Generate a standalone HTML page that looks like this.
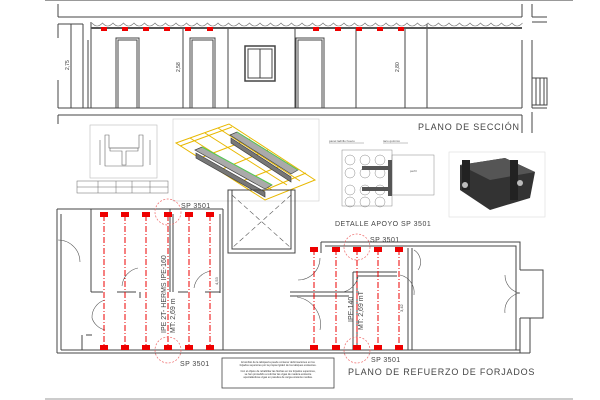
<!DOCTYPE html>
<html><head><meta charset="utf-8"><style>
html,body{margin:0;padding:0;background:#fff;}
svg{display:block;font-family:"Liberation Sans",sans-serif;}
</style></head><body>
<svg width="600" height="400" viewBox="0 0 600 400" xmlns="http://www.w3.org/2000/svg">
<rect width="600" height="400" fill="#fff"/>
<g stroke="#999" stroke-width="1"><line x1="45" y1="0.5" x2="573" y2="0.5"/><line x1="45" y1="399" x2="573" y2="399"/></g>

<!-- SECTION -->
<g fill="none" stroke="#444" stroke-width="1">
<line x1="58" y1="4" x2="58" y2="17"/><line x1="58" y1="17" x2="522" y2="17"/><line x1="522" y1="4" x2="522" y2="17"/>
<line x1="532" y1="4" x2="532" y2="17"/><line x1="532" y1="17" x2="547" y2="17"/><line x1="532" y1="22" x2="547" y2="22"/>
<line x1="58" y1="24" x2="58" y2="38"/><line x1="58" y1="24" x2="83" y2="24"/><line x1="71" y1="24" x2="71" y2="108"/><line x1="83" y1="24" x2="83" y2="108"/>
<line x1="58" y1="80" x2="58" y2="108"/>
<line x1="58" y1="108" x2="522" y2="108"/><line x1="58" y1="115" x2="522" y2="115"/><line x1="58" y1="115" x2="58" y2="124"/>
<line x1="522" y1="115" x2="522" y2="133"/><line x1="532" y1="112" x2="532" y2="133"/><line x1="532" y1="108" x2="547" y2="108"/>
<line x1="522" y1="40" x2="522" y2="108"/><line x1="532" y1="40" x2="532" y2="108"/>
<line x1="91" y1="22" x2="91" y2="108"/><line x1="183" y1="28" x2="183" y2="108"/><line x1="228" y1="28" x2="228" y2="108"/>
<line x1="295" y1="28" x2="295" y2="108"/><line x1="356" y1="28" x2="356" y2="108"/><line x1="405" y1="28" x2="405" y2="108"/><line x1="427" y1="24" x2="427" y2="108"/>
<line x1="88" y1="40" x2="88" y2="108"/>
</g>
<line x1="91" y1="28" x2="522" y2="28" stroke="#555" stroke-width="2"/>
<path d="M92 23 q5 6 10.5 0 q5 6 10.5 0 q5 6 10.5 0 q5 6 10.5 0 q5 6 10.5 0 q5 6 10.5 0 q5 6 10.5 0 q5 6 10.5 0 q5 6 10.5 0 q5 6 10.5 0 q5 6 10.5 0 q5 6 10.5 0 q5 6 10.5 0 q5 6 10.5 0 q5 6 10.5 0 q5 6 10.5 0 q5 6 10.5 0 q5 6 10.5 0 q5 6 10.5 0 q5 6 10.5 0 q5 6 10.5 0 q5 6 10.5 0 q5 6 10.5 0 q5 6 10.5 0 q5 6 10.5 0 q5 6 10.5 0 q5 6 10.5 0 q5 6 10.5 0 q5 6 10.5 0 q5 6 10.5 0 q5 6 10.5 0 q5 6 10.5 0 q5 6 10.5 0 q5 6 10.5 0 q5 6 10.5 0 q5 6 10.5 0 q5 6 10.5 0 q5 6 10.5 0 q5 6 10.5 0 q5 6 10.5 0 q5 6 10.5 0" fill="none" stroke="#777" stroke-width="0.6"/>
<g fill="#e00">
<rect x="101" y="27" width="6" height="4"/><rect x="122" y="27" width="6" height="4"/><rect x="143" y="27" width="6" height="4"/><rect x="164" y="27" width="6" height="4"/><rect x="185" y="27" width="6" height="4"/><rect x="207" y="27" width="6" height="4"/>
<rect x="313" y="27" width="6" height="4"/><rect x="335" y="27" width="6" height="4"/><rect x="356" y="27" width="6" height="4"/><rect x="377" y="27" width="6" height="4"/><rect x="398" y="27" width="6" height="4"/>
</g>
<g fill="none" stroke="#444" stroke-width="1">
<rect x="116" y="38" width="23" height="70"/><rect x="118" y="40" width="19" height="68"/>
<rect x="190" y="38" width="25" height="70"/><rect x="192" y="40" width="21" height="68"/>
<rect x="296" y="38" width="28" height="70"/><rect x="298" y="40" width="24" height="68"/>
<rect x="245" y="46" width="30" height="35" stroke-width="1.5"/><rect x="248" y="49" width="24" height="29"/><line x1="260" y1="49" x2="260" y2="78"/>
<rect x="532" y="78" width="15" height="27"/><line x1="536" y1="78" x2="536" y2="105"/><line x1="540" y1="78" x2="540" y2="105"/><line x1="544" y1="78" x2="544" y2="105"/>
</g>
<g font-size="5" fill="#333">
<text transform="translate(69,70) rotate(-90)">2,75</text>
<text transform="translate(180,72) rotate(-90)">2,58</text>
<text transform="translate(399,72) rotate(-90)">2,80</text>
</g>
<text x="418" y="130" font-size="9" fill="#444" letter-spacing="0.8">PLANO DE SECCIÓN</text>

<!-- IPE detail -->
<g fill="none" stroke="#666" stroke-width="0.6">
<rect x="90" y="125" width="67" height="53" stroke="#bbb"/>
<path d="M105 135 h4 v13 h30 v-13 h4 v31 h-38 z"/>
<path d="M110 148 h28 v3 h-12 v14 h-4 v-14 h-12 z"/>
<line x1="100" y1="140" x2="100" y2="165"/><line x1="150" y1="140" x2="150" y2="165"/>
</g>
<g stroke="#666" stroke-width="0.5" fill="none"><rect x="77" y="181" width="91" height="12"/><line x1="77" y1="187" x2="168" y2="187"/><line x1="98" y1="181" x2="98" y2="193"/><line x1="116" y1="181" x2="116" y2="193"/><line x1="132" y1="181" x2="132" y2="193"/><line x1="150" y1="181" x2="150" y2="193"/></g>

<!-- 3D beams -->
<rect x="173" y="119" width="146" height="82" fill="none" stroke="#ccc" stroke-width="0.6"/>
<g stroke="#e8b800" stroke-width="1" fill="none">
<path d="M176 143 L229 124 L315 180 L265 200 Z"/>
<path d="M190 138 L272 190 M205 133 L287 185 M218 128 L300 181"/>
<path d="M180 146 L232 127 M200 158 L250 139 M220 170 L268 150 M240 182 L288 163 M258 193 L306 173"/>
</g>
<g fill="#aaa" stroke="#444" stroke-width="0.7">
<path d="M195 150 L202 147 L272 185 L265 189 Z"/>
<path d="M230 135 L237 132 L298 170 L291 174 Z"/>
<path d="M196 153 L265 192 L265 197 L196 158 Z" fill="#777"/>
<path d="M231 138 L291 177 L291 182 L231 143 Z" fill="#777"/>
</g>
<line x1="202" y1="147" x2="272" y2="185" stroke="#5c5" stroke-width="1"/>
<line x1="237" y1="132" x2="298" y2="170" stroke="#5c5" stroke-width="1"/>

<!-- Detalle apoyo -->
<g fill="none" stroke="#888" stroke-width="0.5">
<line x1="329" y1="143" x2="364" y2="143"/><line x1="383" y1="143" x2="408" y2="143"/>
<rect x="342" y="150" width="50" height="56"/>
<circle cx="350" cy="160" r="5"/><circle cx="365" cy="160" r="5"/><circle cx="380" cy="160" r="5"/>
<circle cx="350" cy="173" r="5"/><circle cx="365" cy="173" r="5"/><circle cx="380" cy="173" r="5"/>
<circle cx="350" cy="190" r="5"/><circle cx="365" cy="190" r="5"/><circle cx="380" cy="190" r="5"/>
<circle cx="350" cy="202" r="5"/><circle cx="365" cy="202" r="5"/><circle cx="380" cy="202" r="5"/>
<rect x="392" y="155" width="42" height="40"/>
</g>
<g fill="#555"><rect x="362" y="166" width="26" height="4"/><rect x="362" y="187" width="26" height="4"/><rect x="388" y="160" width="4" height="36"/></g>
<g font-size="3" fill="#555"><text x="329" y="142">panel ladrillo hueco</text><text x="383" y="142">taco químico</text><text x="410" y="172">perfil</text></g>
<text x="335" y="226" font-size="7" fill="#444" letter-spacing="0.5">DETALLE APOYO SP 3501</text>

<!-- 3D block -->
<rect x="449" y="152" width="96" height="65" fill="none" stroke="#ddd" stroke-width="0.6"/>
<path d="M460 165 L505 158 L535 172 L530 198 L490 210 L460 190 Z" fill="#333"/>
<path d="M460 165 L505 158 L535 172 L490 180 Z" fill="#555"/>
<rect x="462" y="160" width="8" height="30" fill="#222"/><rect x="510" y="160" width="8" height="40" fill="#222"/>
<circle cx="465" cy="185" r="3" fill="#bbb"/><circle cx="520" cy="183" r="3" fill="#bbb"/>

<!-- PLAN -->
<g fill="none" stroke="#444" stroke-width="1">
<path d="M57 209 H223 M57 209 V353 M61 214 V350"/>
<line x1="57" y1="353" x2="530" y2="353"/><line x1="61" y1="350" x2="520" y2="350"/>
<rect x="228" y="190" width="67" height="63"/><rect x="232" y="190" width="59" height="59"/>
<path d="M223 209 V350 M220 214 V293"/>
<path d="M91 209 V292 M91 292 H103 M117 292 H136 M140 292 V298 M178 292 H188 M205 292 H220"/>
<path d="M170 209 V292 M173 214 V292"/>
<path d="M321 242 H520 V270 M321 242 V253 M325 246 H516 V350"/>
<path d="M520 318 V353 M530 318 V353"/>
<path d="M408 248 V350 M412 248 V350"/>
<path d="M290 292 H353 M290 296 H349"/>
<path d="M353 272 H397 M353 272 V350 M357 276 H397 M357 276 V350"/>
<path d="M520 270 H543 V318 H520"/>
<path d="M82 335 V350 M86 335 H92"/>
</g>
<g fill="none" stroke="#555" stroke-width="0.6">
<path d="M80 262 A22 22 0 0 0 58 240"/><path d="M138 268 A20 20 0 0 0 122 286"/>
<path d="M211 271 A20 20 0 0 0 194 288"/><path d="M105 300 A18 18 0 0 0 92 318"/>
<path d="M105 330 A18 18 0 0 1 92 318"/><path d="M298 280 A22 22 0 0 0 320 258"/>
<path d="M343 292 A20 20 0 0 0 358 277"/><path d="M297 297 A28 28 0 0 1 320 330"/>
<path d="M414 250 A14 14 0 0 1 418 270"/><path d="M414 295 A18 18 0 0 0 400 275"/>
<path d="M505 275 A18 18 0 0 0 520 293"/><path d="M505 313 A18 18 0 0 1 520 293"/>
<path d="M232 195 L291 248 M291 195 L232 248" stroke-dasharray="5 3"/>
</g>
<g stroke="#e00" stroke-width="1" stroke-dasharray="6 2 1 2">
<line x1="104" y1="215" x2="104" y2="347"/><line x1="125" y1="215" x2="125" y2="347"/><line x1="146" y1="215" x2="146" y2="347"/><line x1="168" y1="215" x2="168" y2="347"/><line x1="189" y1="215" x2="189" y2="347"/><line x1="210" y1="215" x2="210" y2="347"/>
<line x1="314" y1="249" x2="314" y2="347"/><line x1="336" y1="249" x2="336" y2="347"/><line x1="357" y1="249" x2="357" y2="347"/><line x1="378" y1="249" x2="378" y2="347"/><line x1="399" y1="249" x2="399" y2="347"/>
</g>
<g fill="#e00">
<rect x="100" y="212" width="8" height="5"/><rect x="121" y="212" width="8" height="5"/><rect x="142" y="212" width="8" height="5"/><rect x="164" y="212" width="8" height="5"/><rect x="185" y="212" width="8" height="5"/><rect x="206" y="212" width="8" height="5"/>
<rect x="100" y="345" width="8" height="5"/><rect x="121" y="345" width="8" height="5"/><rect x="142" y="345" width="8" height="5"/><rect x="164" y="345" width="8" height="5"/><rect x="185" y="345" width="8" height="5"/><rect x="206" y="345" width="8" height="5"/>
<rect x="310" y="247" width="8" height="5"/><rect x="332" y="247" width="8" height="5"/><rect x="353" y="247" width="8" height="5"/><rect x="374" y="247" width="8" height="5"/><rect x="395" y="247" width="8" height="5"/>
<rect x="310" y="345" width="8" height="5"/><rect x="332" y="345" width="8" height="5"/><rect x="353" y="345" width="8" height="5"/><rect x="374" y="345" width="8" height="5"/><rect x="395" y="345" width="8" height="5"/>
</g>
<g fill="none" stroke="#e66" stroke-width="0.7" stroke-dasharray="2 1.5">
<circle cx="168" cy="212" r="13"/><circle cx="168" cy="350" r="13"/><circle cx="357" cy="247" r="13"/><circle cx="357" cy="350" r="13"/>
</g>
<g font-size="7" fill="#444" letter-spacing="0.4">
<text x="181" y="208">SP  3501</text><text x="180" y="366">SP  3501</text>
<text x="370" y="242">SP  3501</text><text x="371" y="362">SP  3501</text>
</g>
<g font-size="7" fill="#444">
<text transform="translate(166,333) rotate(-90)">IPE  2T-  HERMS  IPE-160</text>
<text transform="translate(175,333) rotate(-90)">MT:  2,69  m</text>
<text transform="translate(353,322) rotate(-90)">IPE-140</text>
<text transform="translate(363,330) rotate(-90)">MT:  2,69  mT</text>
</g>
<g font-size="4" fill="#444"><text transform="translate(218,285) rotate(-90)">4,53</text><text transform="translate(403,312) rotate(-90)">3,42</text></g>
<text x="348" y="375" font-size="9" fill="#444" letter-spacing="0.8">PLANO DE REFUERZO DE FORJADOS</text>
<rect x="222" y="358" width="112" height="30" fill="#fff" stroke="#444" stroke-width="0.8"/>
<g font-size="2.6" fill="#333" text-anchor="middle">
<text x="278" y="363">El ámbito de la tabiquería puede contener deformaciones en los</text>
<text x="278" y="366">forjados superiores por la propia rigidez de los tabiques existentes.</text>
<text x="278" y="372">Con el objeto de rehabilitar las flechas en los forjados superiores,</text>
<text x="278" y="375">se han procedido a reforzar las vigas de madera existente</text>
<text x="278" y="378">apuntalándose vigas en paredes de carga existente medias.</text>
</g>
</svg>
</body></html>
